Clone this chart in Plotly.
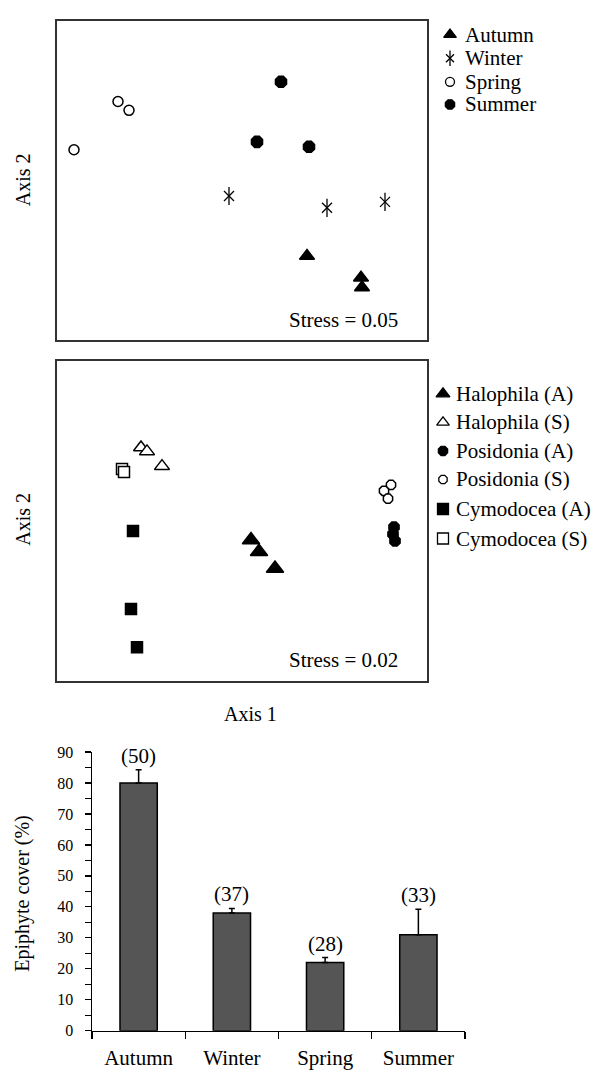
import plotly.graph_objects as go

W, H = 593, 1079
FONT = "Liberation Serif"

# ---------------- data: NMDS by season ----------------
aut_x = [0.65, 1.19, 1.20]
aut_y = [-0.77, -0.99, -1.09]
win_x = [-0.13, 0.85, 1.43]
win_y = [-0.16, -0.28, -0.22]
spr_x = [-1.24, -1.13, -1.68]
spr_y = [0.80, 0.71, 0.31]
sum_x = [0.39, 0.15, 0.67]
sum_y = [1.00, 0.39, 0.34]
stress_top = "Stress = 0.05"

# ---------------- data: NMDS by species x season ----------------
halA_x = [0.09, 0.17, 0.33]
halA_y = [-0.19, -0.31, -0.48]
halS_x = [-1.01, -0.95, -0.80]
halS_y = [0.75, 0.71, 0.56]
posA_x = [1.52, 1.51, 1.53]
posA_y = [-0.06, -0.13, -0.20]
posS_x = [1.49, 1.42, 1.46]
posS_y = [0.37, 0.31, 0.23]
cymA_x = [-1.09, -1.11, -1.05]
cymA_y = [-0.10, -0.89, -1.28]
cymS_x = [-1.20, -1.18]
cymS_y = [0.53, 0.50]
stress_mid = "Stress = 0.02"

# ---------------- data: epiphyte cover ----------------
seasons = ["Autumn", "Winter", "Spring", "Summer"]
cover = [80, 38, 22, 31]
cover_se = [4.3, 1.5, 1.6, 8.2]
n_labels = ["(50)", "(37)", "(28)", "(33)"]


def xd(a, b):
    return [a / W, b / W]


def yd(top, bottom):
    return [1 - bottom / H, 1 - top / H]


fig = go.Figure()


def sc(x, y, symbol, size, filled, xa, ya, lw=1.5):
    thin = ("thin" in symbol) or symbol.startswith("line")
    return go.Scatter(
        x=x, y=y, mode="markers", xaxis=xa, yaxis=ya, showlegend=False,
        marker=dict(symbol=symbol, size=size,
                    color="black" if (filled or thin) else "white",
                    line=dict(color="black", width=lw)),
        hoverinfo="skip")


# ---- top panel (x, y) ----
fig.add_trace(sc(aut_x, aut_y, "triangle-up", 13, True, "x", "y"))
fig.add_trace(sc(win_x, win_y, "x-thin-open", 10, False, "x", "y", 1.3))
fig.add_trace(sc(win_x, win_y, "line-ns-open", 13, False, "x", "y", 1.3))
fig.add_trace(sc(spr_x, spr_y, "circle", 10, False, "x", "y"))
fig.add_trace(sc(sum_x, sum_y, "octagon", 12, True, "x", "y"))

# ---- middle panel (x2, y2) ----
fig.add_trace(sc(halA_x, halA_y, "triangle-up", 15, True, "x2", "y2"))
fig.add_trace(sc(halS_x, halS_y, "triangle-up", 13, False, "x2", "y2"))
fig.add_trace(sc(posA_x, posA_y, "octagon", 11, True, "x2", "y2"))
fig.add_trace(sc(posS_x, posS_y, "octagon", 10, False, "x2", "y2"))
fig.add_trace(sc(cymA_x, cymA_y, "square", 11, True, "x2", "y2"))
fig.add_trace(sc(cymS_x, cymS_y, "square", 11, False, "x2", "y2"))

# ---- bar chart (x3, y3) ----
fig.add_trace(go.Bar(
    x=seasons, y=cover, xaxis="x3", yaxis="y3", width=0.4, showlegend=False,
    marker=dict(color="#555555", line=dict(color="black", width=1.5)),
    error_y=dict(type="data", array=cover_se, arrayminus=[0] * len(cover),
                 symmetric=False, color="black", thickness=1.5, width=3),
    hoverinfo="skip"))

# ---- legend helper axis (x4, y4) in pixel space ----
leg_top = [("Autumn", "triangle-up", 11, True),
           ("Winter", "x-thin-open", 8, False),
           ("Spring", "circle", 9, False),
           ("Summer", "octagon", 10, True)]
leg_top_rows = [27, 51, 75, 98]
leg_mid = [("Halophila (A)", "triangle-up", 12, True),
           ("Halophila (S)", "triangle-up", 11, False),
           ("Posidonia (A)", "octagon", 10, True),
           ("Posidonia (S)", "octagon", 9, False),
           ("Cymodocea (A)", "square", 11, True),
           ("Cymodocea (S)", "square", 11, False)]
leg_mid_rows = [392, 421, 450, 479, 509, 539]

annotations = []
for (lab, sym, sz, filled), ry in zip(leg_top, leg_top_rows):
    fig.add_trace(sc([450], [ry], sym, sz, filled, "x4", "y4", 1.3))
    if lab == "Winter":
        fig.add_trace(sc([450], [ry], "line-ns-open", 11, False, "x4", "y4", 1.3))
    annotations.append(dict(x=463, y=ry, xref="x4", yref="y4", text=lab,
                            showarrow=False, xanchor="left", yanchor="middle",
                            font=dict(family=FONT, size=21, color="black")))
for (lab, sym, sz, filled), ry in zip(leg_mid, leg_mid_rows):
    fig.add_trace(sc([443], [ry], sym, sz, filled, "x4", "y4", 1.3))
    annotations.append(dict(x=454, y=ry, xref="x4", yref="y4", text=lab,
                            showarrow=False, xanchor="left", yanchor="middle",
                            font=dict(family=FONT, size=21, color="black")))

# stress labels
annotations.append(dict(x=1, y=0, xref="x domain", yref="y domain", text=stress_top,
                        showarrow=False, xanchor="right", yanchor="middle",
                        xshift=-27, yshift=20,
                        font=dict(family=FONT, size=21, color="black")))
annotations.append(dict(x=1, y=0, xref="x2 domain", yref="y2 domain", text=stress_mid,
                        showarrow=False, xanchor="right", yanchor="middle",
                        xshift=-27, yshift=21,
                        font=dict(family=FONT, size=21, color="black")))

# axis titles
annotations.append(dict(x=23, y=175, xref="x4", yref="y4", text="Axis 2", textangle=-90,
                        showarrow=False, font=dict(family=FONT, size=20, color="black")))
annotations.append(dict(x=23, y=520, xref="x4", yref="y4", text="Axis 2", textangle=-90,
                        showarrow=False, font=dict(family=FONT, size=20, color="black")))
annotations.append(dict(x=250, y=717, xref="x4", yref="y4", text="Axis 1",
                        showarrow=False, font=dict(family=FONT, size=20, color="black")))
annotations.append(dict(x=23, y=900, xref="x4", yref="y4", text="Epiphyte cover (%)",
                        textangle=-90, showarrow=False,
                        font=dict(family=FONT, size=20, color="black")))

# n labels above bars
for s, v, e, t in zip(seasons, cover, cover_se, n_labels):
    annotations.append(dict(x=s, y=v + e, xref="x3", yref="y3", text=t,
                            showarrow=False, xanchor="center", yanchor="bottom",
                            yshift=0, font=dict(family=FONT, size=21, color="black")))

box = dict(showline=True, mirror=True, linecolor="#333333", linewidth=2,
           showgrid=False, zeroline=False, showticklabels=False, ticks="")

fig.update_layout(
    width=W, height=H,
    margin=dict(l=0, r=0, t=0, b=0),
    paper_bgcolor="white", plot_bgcolor="rgba(0,0,0,0)",
    font=dict(family=FONT, color="black"),
    showlegend=False,
    xaxis=dict(domain=xd(57, 427), range=[-1.85, 1.85], **box),
    yaxis=dict(domain=yd(13, 337), range=[-1.62, 1.62], **box),
    xaxis2=dict(domain=xd(57, 427), range=[-1.85, 1.85], anchor="y2", **box),
    yaxis2=dict(domain=yd(359, 684), range=[-1.625, 1.625], anchor="x2", **box),
    xaxis3=dict(domain=xd(92, 465), anchor="y3", type="category",
                categoryorder="array", categoryarray=seasons,
                range=[-0.5, 3.5], showline=True, linecolor="black", linewidth=1.5,
                ticks="outside", ticklen=7, tickwidth=1.3, tickcolor="black",
                tickson="boundaries", showgrid=False, zeroline=False,
                tickfont=dict(family=FONT, size=21, color="black"),
                ticklabelstandoff=8),
    yaxis3=dict(domain=yd(756, 1039), anchor="x3", range=[0, 90],
                tickmode="array", tickvals=list(range(0, 91, 10)),
                showline=True, linecolor="black", linewidth=1.5,
                ticks="outside", ticklen=6, tickwidth=1.3, tickcolor="black",
                minor=dict(tickvals=list(range(5, 90, 10)), ticks="outside",
                           ticklen=6, tickwidth=1.3, tickcolor="black"),
                showgrid=False, zeroline=False,
                tickfont=dict(family=FONT, size=16, color="black"),
                ticklabelstandoff=8),
    xaxis4=dict(domain=[0, 1], range=[0, W], visible=False, anchor="y4"),
    yaxis4=dict(domain=[0, 1], range=[H, 0], visible=False, anchor="x4"),
    annotations=annotations,
)

fig.write_html("out.html",
               config={"displayModeBar": False, "staticPlot": True},
               post_script="document.body.style.margin='0';document.body.style.overflow='hidden';")
